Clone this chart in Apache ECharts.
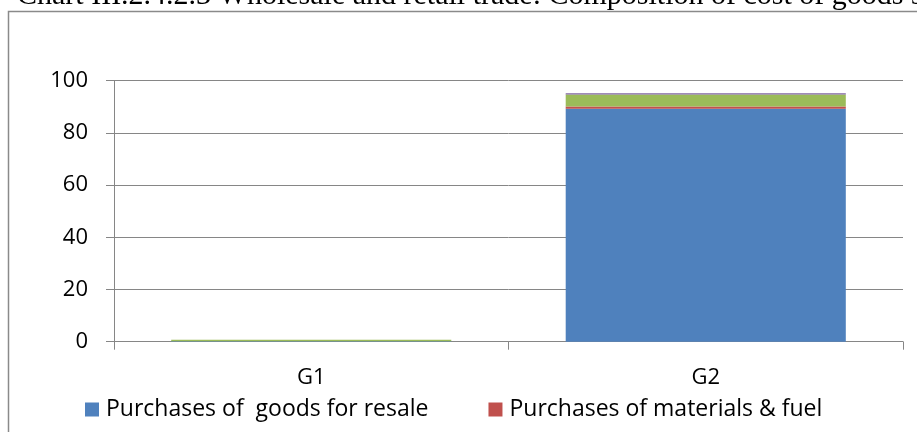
<!DOCTYPE html>
<html>
<head>
<meta charset="utf-8">
<script src="https://cdn.jsdelivr.net/npm/echarts@6/dist/echarts.min.js"></script>
<style>
html,body{margin:0;padding:0;background:#fff;}
#chart{width:917px;height:432px;}
</style>
</head>
<body>
<div id="chart"></div>
<script>
const titleText = 'Chart III.2.4.2.3 Wholesale and retail trade: Composition of cost of goods sold';
const categories = ['G1', 'G2'];
const seriesNames = ['Purchases of  goods for resale', 'Purchases of materials & fuel', 'Purchases of services', 'Other costs'];
const goodsForResale = [0.2, 89.3];
const materialsFuel = [0.0, 0.8];
const services = [0.5, 4.6];
const otherCosts = [0.0, 0.5];
const yTicks = [0, 20, 40, 60, 80, 100];

const colors = ['#4F81BD', '#C0504D', '#9BBB59', '#8064A2'];
const seriesData = [goodsForResale, materialsFuel, services, otherCosts];
const font = 'Open Sans';

const legendBase = {
  top: 393, width: 3000,
  itemWidth: 14, itemHeight: 14, itemGap: 60,
  icon: 'rect',
  textStyle: {fontFamily: font, fontSize: 23, color: '#000', padding: [0,0,0,2]}
};

const chart = echarts.init(document.getElementById('chart'));
chart.setOption({
  animation: false,
  color: colors,
  graphic: [{
    type: 'rect', silent: true,
    shape: {x: 8.5, y: 11.5, width: 1000, height: 440},
    style: {fill: 'none', stroke: '#8a8a8a', lineWidth: 1.5}
  }, {
    type: 'text', silent: true, x: 17, y: -3.8,
    style: {text: titleText, font: '30px "Liberation Serif"', fill: '#000', verticalAlign: 'middle', align: 'left'}
  }],
  legend: [
    Object.assign({}, legendBase, {data: seriesNames.slice(0, 2), left: 80}),
    Object.assign({}, legendBase, {data: seriesNames.slice(2), left: 940})
  ],
  grid: {left: 114, right: 14, top: 80.7, bottom: 90.3},
  xAxis: {
    type: 'category', data: categories,
    axisLine: {lineStyle: {color: '#868686', width: 1}},
    axisTick: {show: true, length: 8, lineStyle: {color: '#868686'}},
    axisLabel: {fontFamily: font, fontSize: 22, color: '#000', margin: 25}
  },
  yAxis: {
    type: 'value', min: yTicks[0], max: yTicks[yTicks.length - 1], interval: 20,
    axisLine: {show: true, lineStyle: {color: '#868686', width: 1}},
    axisTick: {show: true, length: 8, lineStyle: {color: '#868686'}},
    splitLine: {lineStyle: {color: '#868686', width: 1}},
    axisLabel: {fontFamily: font, fontSize: 22, color: '#000', margin: 26}
  },
  series: seriesNames.map((n, i) => ({
    name: n, type: 'bar', stack: 'total', data: seriesData[i],
    barCategoryGap: '29%',
    itemStyle: {color: colors[i]}
  }))
});
</script>
</body>
</html>
